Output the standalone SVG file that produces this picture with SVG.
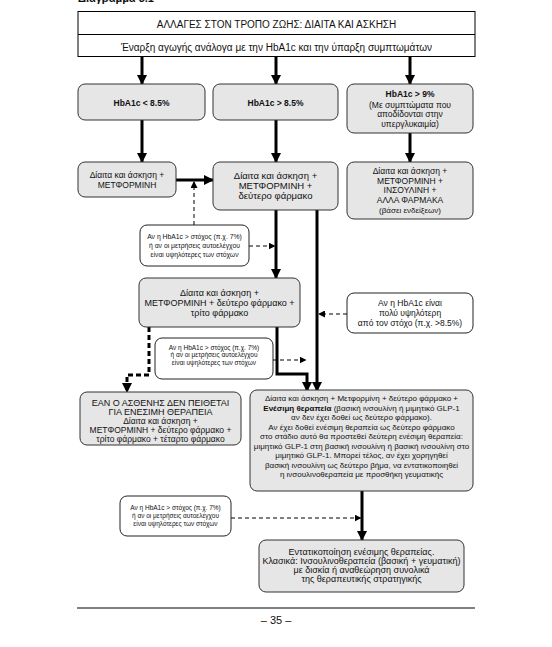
<svg xmlns="http://www.w3.org/2000/svg" width="552" height="647" viewBox="0 0 552 647">
<style>
text{font-family:"Liberation Sans",Arial,sans-serif;fill:#111;text-anchor:middle}
.box{fill:#e6e6e6;stroke:#333;stroke-width:1}
.note{fill:#fff;stroke:#222;stroke-width:1}
.thick{fill:none;stroke:#000;stroke-width:3}
.thickd{fill:none;stroke:#000;stroke-width:3;stroke-dasharray:5,3}
.dash{fill:none;stroke:#000;stroke-width:1;stroke-dasharray:4,3}
.t10{font-size:10px}
.t9{font-size:9px}
.t95{font-size:9.5px}
.t85{font-size:8.5px}
.t8{font-size:8px}
.n7{font-size:6.8px}
.n65{font-size:6.5px}
.b{font-weight:bold}
</style>
<defs>
<marker id="ah" markerUnits="userSpaceOnUse" markerWidth="10" markerHeight="10" refX="9" refY="5" orient="auto">
<path d="M0,0 L10,5 L0,10 z" fill="#000"/>
</marker>
<marker id="ahs" markerUnits="userSpaceOnUse" markerWidth="7" markerHeight="7" refX="6" refY="3.5" orient="auto">
<path d="M0,0 L7,3.5 L0,7 z" fill="#000"/>
</marker>
</defs>
<rect width="552" height="647" fill="#fff"/>
<text x="78" y="2" class="b" style="font-size:11px;text-anchor:start">Διάγραμμα 3.1</text>

<g id="header">
<rect x="78" y="11.5" width="397" height="45" fill="#fff" stroke="#000" stroke-width="1"/>
<line x1="78" y1="34.5" x2="475" y2="34.5" stroke="#000" stroke-width="1"/>
<text x="276.5" y="28" class="t10">ΑΛΛΑΓΕΣ ΣΤΟΝ ΤΡΟΠΟ ΖΩΗΣ: ΔΙΑΙΤΑ ΚΑΙ ΑΣΚΗΣΗ</text>
<text x="276.5" y="51" class="t10">Έναρξη αγωγής ανάλογα με την HbA1c και την ύπαρξη συμπτωμάτων</text>
</g>

<g id="connectors">
<line x1="142" y1="57" x2="142" y2="84" class="thick" marker-end="url(#ah)"/>
<line x1="276" y1="57" x2="276" y2="84" class="thick" marker-end="url(#ah)"/>
<line x1="410" y1="57" x2="410" y2="84" class="thick" marker-end="url(#ah)"/>
<line x1="142" y1="120" x2="142" y2="162" class="thick" marker-end="url(#ah)"/>
<line x1="276" y1="120" x2="276" y2="162" class="thick" marker-end="url(#ah)"/>
<line x1="410" y1="133" x2="410" y2="162" class="thick" marker-end="url(#ah)"/>
<line x1="176" y1="180" x2="213" y2="180" class="thick" marker-end="url(#ah)"/>
<line x1="194" y1="225" x2="194" y2="182" class="dash" marker-end="url(#ahs)"/>
<line x1="276" y1="210" x2="276" y2="278" class="thick" marker-end="url(#ah)"/>
<line x1="317" y1="210" x2="317" y2="391" class="thick" marker-end="url(#ah)"/>
<line x1="249" y1="246" x2="274.5" y2="246" class="dash" marker-end="url(#ahs)"/>
<line x1="347" y1="314" x2="319" y2="314" class="dash" marker-end="url(#ahs)"/>
<path d="M149,327 V375 H127 V392" class="thickd" marker-end="url(#ah)"/>
<path d="M277,327 V374 H307 V391" class="thick" marker-end="url(#ah)"/>
<line x1="273" y1="360" x2="305.5" y2="360" class="dash" marker-end="url(#ahs)"/>
<line x1="362" y1="491" x2="362" y2="540" class="thick" marker-end="url(#ah)"/>
<line x1="231" y1="518" x2="360.5" y2="518" class="dash" marker-end="url(#ahs)"/>
</g>

<g id="n-hba1c-low">
<rect x="78" y="84" width="127" height="36" rx="7" class="box"/>
<text x="141.5" y="106" class="t85 b">HbA1c &lt; 8.5%</text>
</g>
<g id="n-hba1c-high">
<rect x="213" y="84" width="125" height="36" rx="7" class="box"/>
<text x="275.5" y="106" class="t85 b">HbA1c &gt; 8.5%</text>
</g>
<g id="n-hba1c-9">
<rect x="347" y="84" width="126" height="49" rx="7" class="box"/>
<text x="410" y="97" class="t85 b">HbA1c &gt; 9%</text>
<text x="410" y="107.5" class="t85">(Με συμπτώματα που</text>
<text x="410" y="117" class="t85">αποδίδονται στην</text>
<text x="410" y="127" class="t85">υπεργλυκαιμία)</text>
</g>

<g id="n-met">
<rect x="78" y="162" width="98" height="35" rx="7" class="box"/>
<text x="127" y="178" class="t85">Δίαιτα και άσκηση +</text>
<text x="127" y="187.5" class="t85">ΜΕΤΦΟΡΜΙΝΗ</text>
</g>
<g id="n-met2">
<rect x="213" y="162" width="125" height="48" rx="7" class="box"/>
<text x="275.5" y="179" class="t95">Δίαιτα και άσκηση +</text>
<text x="275.5" y="189" class="t95">ΜΕΤΦΟΡΜΙΝΗ +</text>
<text x="275.5" y="199" class="t95">δεύτερο φάρμακο</text>
</g>
<g id="n-ins">
<rect x="347" y="162" width="126" height="57" rx="7" class="box"/>
<text x="410" y="174" class="t85">Δίαιτα και άσκηση +</text>
<text x="410" y="183.5" class="t85">ΜΕΤΦΟΡΜΙΝΗ +</text>
<text x="410" y="193" class="t85">ΙΝΣΟΥΛΙΝΗ +</text>
<text x="410" y="203" class="t85">ΑΛΛΑ ΦΑΡΜΑΚΑ</text>
<text x="410" y="212.5" class="t8">(βάσει ενδείξεων)</text>
</g>

<g id="note1">
<rect x="140" y="225" width="109" height="41" rx="7" class="note"/>
<text x="194.5" y="238.5" class="n7">Αν η HbA1c &gt; στόχος (π.χ. 7%)</text>
<text x="194.5" y="247.5" class="n7">ή αν οι μετρήσεις αυτοελέγχου</text>
<text x="194.5" y="256.5" class="n7">είναι υψηλότερες των στόχων</text>
</g>

<g id="n-met3">
<rect x="139" y="278" width="161" height="49" rx="7" class="box"/>
<text x="219.5" y="296" class="t9">Δίαιτα και άσκηση +</text>
<text x="219.5" y="306" class="t9">ΜΕΤΦΟΡΜΙΝΗ + δεύτερο φάρμακο +</text>
<text x="219.5" y="316" class="t9">τρίτο φάρμακο</text>
</g>

<g id="note4">
<rect x="347" y="293" width="126" height="40" rx="7" class="note"/>
<text x="410" y="306" class="t85">Αν η HbA1c είναι</text>
<text x="410" y="316" class="t85">πολύ υψηλότερη</text>
<text x="410" y="325.5" class="t85">από τον στόχο (π.χ. &gt;8.5%)</text>
</g>

<g id="note2">
<rect x="155" y="338" width="118" height="41" rx="7" class="note"/>
<text x="214" y="349.5" class="n65">Αν η HbA1c &gt; στόχος (π.χ. 7%)</text>
<text x="214" y="357" class="n65">ή αν οι μετρήσεις αυτοελέγχου</text>
<text x="214" y="364.5" class="n65">είναι υψηλότερες των στόχων</text>
</g>

<g id="n-noinj">
<rect x="80" y="392" width="161" height="53" rx="7" class="box"/>
<text x="160.5" y="406" class="t9">ΕΑΝ Ο ΑΣΘΕΝΗΣ ΔΕΝ ΠΕΙΘΕΤΑΙ</text>
<text x="160.5" y="415" class="t9">ΓΙΑ ΕΝΕΣΙΜΗ ΘΕΡΑΠΕΙΑ</text>
<text x="160.5" y="424" class="t85">Δίαιτα και άσκηση +</text>
<text x="160.5" y="433" class="t85">ΜΕΤΦΟΡΜΙΝΗ + δεύτερο φάρμακο +</text>
<text x="160.5" y="442" class="t85">τρίτο φάρμακο + τέταρτο φάρμακο</text>
</g>

<g id="n-inj">
<rect x="250" y="390" width="223" height="101" rx="7" class="box"/>
<text x="361.5" y="401" class="t8">Δίαιτα και άσκηση + Μετφορμίνη + δεύτερο φάρμακο +</text>
<text x="361.5" y="410.5" class="t8"><tspan class="b">Ενέσιμη θεραπεία</tspan> (βασική ινσουλίνη ή μιμητικό GLP-1</text>
<text x="361.5" y="420" class="t8">αν δεν έχει δοθεί ως δεύτερο φάρμακο).</text>
<text x="361.5" y="429.5" class="t8">Αν έχει δοθεί ενέσιμη θεραπεία ως δεύτερο φάρμακο</text>
<text x="361.5" y="439" class="t8">στο στάδιο αυτό θα προστεθεί δεύτερη ενέσιμη θεραπεία:</text>
<text x="361.5" y="448.5" class="t8">μιμητικό GLP-1  στη βασική ινσουλίνη ή βασική ινσουλίνη στο</text>
<text x="361.5" y="458" class="t8">μιμητικό GLP-1. Μπορεί τέλος, αν έχει χορηγηθεί</text>
<text x="361.5" y="467.5" class="t8">βασική ινσουλίνη ως δεύτερο βήμα, να εντατικοποιηθεί</text>
<text x="361.5" y="477" class="t8">η ινσουλινοθεραπεία με προσθήκη γευματικής</text>
</g>

<g id="note3">
<rect x="120" y="496" width="111" height="40" rx="7" class="note"/>
<text x="175.5" y="509.5" class="n65">Αν η HbA1c &gt; στόχος (π.χ. 7%)</text>
<text x="175.5" y="517.5" class="n65">ή αν οι μετρήσεις αυτοελέγχου</text>
<text x="175.5" y="525.5" class="n65">είναι υψηλότερες των στόχων</text>
</g>

<g id="n-intens">
<rect x="259" y="540" width="205" height="52" rx="7" class="box"/>
<text x="361.5" y="555" class="t9">Εντατικοποίηση ενέσιμης θεραπείας.</text>
<text x="361.5" y="564" class="t9">Κλασικά: Ινσουλινοθεραπεία (βασική + γευματική)</text>
<text x="361.5" y="573" class="t9">με δισκία ή αναθεώρηση συνολικά</text>
<text x="361.5" y="582" class="t9">της θεραπευτικής στρατηγικής</text>
</g>

<line x1="77" y1="608" x2="475" y2="608" stroke="#000" stroke-width="1"/>
<text x="276" y="624" style="font-size:11px">– 35 –</text>
</svg>
